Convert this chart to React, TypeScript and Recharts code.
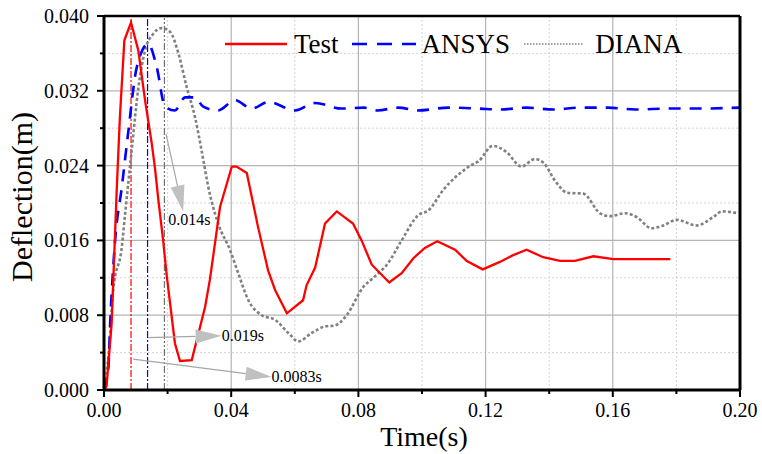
import React from "react"
import { LineChart, Line, XAxis, YAxis, ReferenceLine, Legend } from "recharts"

const FONT = '"Liberation Serif", "Times New Roman", serif'

// Test (measured)
const testTime = [
  0, 0.0008, 0.0024, 0.004, 0.005, 0.0064, 0.0085, 0.0108, 0.0129, 0.015, 0.016, 0.0171, 0.0186, 0.0197,
  0.0223, 0.0239, 0.0276, 0.0318, 0.0333, 0.0365, 0.0402, 0.0417, 0.0449, 0.0484, 0.0516, 0.0538, 0.0575,
  0.0626, 0.0637, 0.0664, 0.0695, 0.0732, 0.0783, 0.081, 0.0842, 0.0897, 0.0936, 0.0973, 0.1009, 0.1048,
  0.1104, 0.1141, 0.1191, 0.1245, 0.1285, 0.1329, 0.1381, 0.1434, 0.1481, 0.1539, 0.1602, 0.1781,
]
const testDefl = [
  0, 0.0004, 0.0071, 0.0214, 0.0292, 0.0374, 0.0393, 0.0363, 0.031, 0.0264, 0.0238, 0.0203, 0.016, 0.0123,
  0.005, 0.0031, 0.0032, 0.0089, 0.0118, 0.0196, 0.0239, 0.0239, 0.0232, 0.0175, 0.0128, 0.0107, 0.0082,
  0.0096, 0.0112, 0.0131, 0.0178, 0.0191, 0.0178, 0.016, 0.0134, 0.0115, 0.0125, 0.0141, 0.0152, 0.0159,
  0.015, 0.0138, 0.0129, 0.0137, 0.0144, 0.015, 0.0142, 0.0138, 0.0138, 0.0143, 0.014, 0.014,
]

// ANSYS
const ansysTime = [
  0, 0.0014, 0.0019, 0.0035, 0.0056, 0.0076, 0.0103, 0.0139, 0.0166, 0.0192, 0.0223, 0.0255, 0.0286,
  0.0312, 0.0359, 0.0412, 0.0464, 0.0517, 0.0601, 0.0664, 0.0747, 0.0818, 0.086, 0.0925, 0.0987, 0.1084,
  0.1179, 0.1244, 0.1329, 0.1414, 0.1499, 0.1585, 0.167, 0.1777, 0.1862, 0.2,
]
const ansysDefl = [
  0, 0.0025, 0.0068, 0.016, 0.0217, 0.0275, 0.0345, 0.037, 0.0345, 0.0303, 0.0299, 0.0313, 0.0313,
  0.0303, 0.0299, 0.031, 0.0301, 0.0308, 0.0299, 0.0307, 0.0301, 0.0302, 0.0299, 0.0302, 0.0299, 0.0302,
  0.0301, 0.03, 0.0302, 0.03, 0.0302, 0.0302, 0.03, 0.0301, 0.0301, 0.0302,
]

// DIANA
const dianaTime = [
  0, 0.0014, 0.0029, 0.0056, 0.0066, 0.0087, 0.0108, 0.0129, 0.0155, 0.0181, 0.0208, 0.0234, 0.026,
  0.0286, 0.0307, 0.0328, 0.0359, 0.0396, 0.0422, 0.0454, 0.0496, 0.0538, 0.058, 0.0611, 0.0653, 0.0695,
  0.0726, 0.0763, 0.0815, 0.0847, 0.0894, 0.0936, 0.0988, 0.102, 0.1067, 0.1148, 0.1179, 0.1222, 0.1264,
  0.1313, 0.1355, 0.1382, 0.142, 0.1457, 0.1507, 0.156, 0.1591, 0.1638, 0.1675, 0.1722, 0.1759, 0.1801,
  0.1864, 0.1916, 0.1943, 0.1995,
]
const dianaDefl = [
  0, 0.0036, 0.0107, 0.0153, 0.0187, 0.0256, 0.0323, 0.0363, 0.0381, 0.0387, 0.0383, 0.036, 0.0324,
  0.0292, 0.0256, 0.0217, 0.0178, 0.015, 0.0125, 0.0096, 0.008, 0.0075, 0.0061, 0.0052, 0.0061, 0.0068,
  0.0069, 0.008, 0.011, 0.012, 0.0136, 0.016, 0.0187, 0.0192, 0.0214, 0.0239, 0.0245, 0.0261, 0.0255,
  0.0239, 0.0247, 0.0243, 0.0223, 0.0211, 0.021, 0.0189, 0.0186, 0.0189, 0.0185, 0.0173, 0.0176, 0.0182,
  0.0176, 0.0185, 0.0191, 0.0189,
]

const xTicks = [0, 0.02, 0.04, 0.06, 0.08, 0.1, 0.12, 0.14, 0.16, 0.18, 0.2]
const yTicks = [0, 0.004, 0.008, 0.012, 0.016, 0.02, 0.024, 0.028, 0.032, 0.036, 0.04]
const xMajorGrid = [0.04, 0.08, 0.12, 0.16]
const xMinorGrid = [0.02, 0.06, 0.1, 0.14, 0.18]
const yMajorGrid = [0.008, 0.016, 0.024, 0.032]
const yMinorGrid = [0.004, 0.012, 0.02, 0.028, 0.036]

// peak time markers
const peakTest = 0.0085
const peakAnsys = 0.0137
const peakDiana = 0.019

const toPoints = (ts: number[], vs: number[]) => ts.map((t, i) => ({ t, v: vs[i] }))
const testData = toPoints(testTime, testDefl)
const ansysData = toPoints(ansysTime, ansysDefl)
const dianaData = toPoints(dianaTime, dianaDefl)

const XTick = ({ x, y, payload }: any) => {
  const major = Math.round(payload.value * 1000) % 40 === 0
  return (
    <g>
      <line x1={x} x2={x} y1={y} y2={y + (major ? 7 : 4)} stroke="#000" strokeWidth={2} />
      {major && (
        <text x={x} y={y + 27} textAnchor="middle" fontFamily={FONT} fontSize={20} fill="#000">
          {payload.value.toFixed(2)}
        </text>
      )}
    </g>
  )
}

const YTick = ({ x, y, payload }: any) => {
  const major = Math.round(payload.value * 1000) % 8 === 0
  return (
    <g>
      <line x1={x - (major ? 7 : 4)} x2={x} y1={y} y2={y} stroke="#000" strokeWidth={2} />
      {major && (
        <text x={x - 15} y={y + 7} textAnchor="end" fontFamily={FONT} fontSize={20} fill="#000">
          {payload.value.toFixed(3)}
        </text>
      )}
    </g>
  )
}

const arrow = (label: string, dx: number, dy: number) => (p: any) => {
  const { x1, y1, x2, y2 } = p
  const len = Math.hypot(x2 - x1, y2 - y1)
  const ux = (x2 - x1) / len
  const uy = (y2 - y1) / len
  const head = 26
  const half = 7
  const bx = x2 - ux * head
  const by = y2 - uy * head
  const pts = `${x2},${y2} ${bx - uy * half},${by + ux * half} ${bx + uy * half},${by - ux * half}`
  return (
    <g>
      <line x1={x1} y1={y1} x2={bx} y2={by} stroke="#a6a6a6" strokeWidth={1.2} />
      <polygon points={pts} fill="#c0c0c0" />
      <text x={x2 + dx} y={y2 + dy} fontFamily={FONT} fontSize={16} fill="#000">
        {label}
      </text>
    </g>
  )
}

const renderLegend = () => (
  <div
    style={{
      display: "flex",
      alignItems: "center",
      fontFamily: FONT,
      fontSize: 27,
      lineHeight: "30px",
      color: "#000",
      whiteSpace: "nowrap",
    }}
  >
    <svg width={62} height={6} style={{ marginRight: 7 }}>
      <line x1={0} x2={62} y1={3} y2={3} stroke="#ff0000" strokeWidth={2.5} />
    </svg>
    <span style={{ marginRight: 13 }}>Test</span>
    <svg width={64} height={6} style={{ marginRight: 6 }}>
      <line x1={0} x2={64} y1={3} y2={3} stroke="#0000ff" strokeWidth={2.5} strokeDasharray="15 10" />
    </svg>
    <span style={{ marginRight: 14 }}>ANSYS</span>
    <svg width={60} height={6} style={{ marginRight: 11 }}>
      <line x1={0} x2={60} y1={3} y2={3} stroke="#808080" strokeWidth={1.3} strokeDasharray="1.5 1.5" />
    </svg>
    <span>DIANA</span>
  </div>
)

const YTitle = ({ viewBox }: any) => {
  const cx = viewBox.x + 21
  const cy = viewBox.y + viewBox.height / 2 - 6
  return (
    <text
      x={cx}
      y={cy}
      transform={`rotate(-90 ${cx} ${cy})`}
      textAnchor="middle"
      dy="0.35em"
      fontFamily={FONT}
      fontSize={30}
      fill="#000"
    >
      Deflection(m)
    </text>
  )
}

const XTitle = ({ viewBox }: any) => (
  <text
    x={viewBox.x + viewBox.width / 2 + 2}
    y={viewBox.y + 56}
    textAnchor="middle"
    fontFamily={FONT}
    fontSize={28}
    fill="#000"
  >
    Time(s)
  </text>
)

export default function App() {
  return (
    <div style={{ width: 762, height: 454, background: "#fff" }}>
      <style>{"body{margin:0}"}</style>
      <LineChart width={762} height={454} margin={{ top: 16, right: 22, left: 0, bottom: 0 }}>
        <XAxis
          dataKey="t"
          type="number"
          domain={[0, 0.2]}
          ticks={xTicks}
          interval={0}
          tickSize={0}
          tickMargin={0}
          tickLine={false}
          axisLine={{ stroke: "#000", strokeWidth: 3 }}
          tick={(p: any) => <XTick {...p} />}
          height={64}
          label={(p: any) => <XTitle {...p} />}
        />
        <YAxis
          type="number"
          domain={[0, 0.04]}
          ticks={yTicks}
          interval={0}
          tickSize={0}
          tickMargin={0}
          tickLine={false}
          axisLine={{ stroke: "#000", strokeWidth: 3 }}
          tick={(p: any) => <YTick {...p} />}
          width={104}
          label={(p: any) => <YTitle {...p} />}
        />

        {xMinorGrid.map((v) => (
          <ReferenceLine key={`xm${v}`} x={v} stroke="#d4d4d4" strokeWidth={1} strokeDasharray="2 2" />
        ))}
        {yMinorGrid.map((v) => (
          <ReferenceLine key={`ym${v}`} y={v} stroke="#d4d4d4" strokeWidth={1} strokeDasharray="2 2" />
        ))}
        {xMajorGrid.map((v) => (
          <ReferenceLine key={`xM${v}`} x={v} stroke="#b4b4b4" strokeWidth={1.2} />
        ))}
        {yMajorGrid.map((v) => (
          <ReferenceLine key={`yM${v}`} y={v} stroke="#b4b4b4" strokeWidth={1.2} />
        ))}

        <ReferenceLine x={peakTest} stroke="#ff0000" strokeWidth={1.2} strokeDasharray="7 2 2 2" />
        <ReferenceLine x={peakAnsys} stroke="#0000ff" strokeWidth={1.2} strokeDasharray="7 2 2 2" />
        <ReferenceLine x={peakDiana} stroke="#707070" strokeWidth={1.2} strokeDasharray="7 2 2 2 2 2" />

        <Line
          data={dianaData}
          dataKey="v"
          type="monotone"
          stroke="#808080"
          strokeWidth={2.6}
          strokeDasharray="3 2.2"
          dot={false}
          isAnimationActive={false}
        />
        <Line
          data={ansysData}
          dataKey="v"
          type="monotone"
          stroke="#0000ff"
          strokeWidth={2.6}
          strokeDasharray="12 9"
          dot={false}
          isAnimationActive={false}
        />
        <Line
          data={testData}
          dataKey="v"
          type="linear"
          stroke="#ff0000"
          strokeWidth={2.3}
          dot={false}
          isAnimationActive={false}
        />

        <ReferenceLine
          segment={[{ x: 0.0195, y: 0.0274 }, { x: 0.0249, y: 0.0191 }]}
          shape={arrow("0.014s", -15, 14)}
        />
        <ReferenceLine
          segment={[{ x: 0.0139, y: 0.0056 }, { x: 0.037, y: 0.0058 }]}
          shape={arrow("0.019s", 0, 5)}
        />
        <ReferenceLine
          segment={[{ x: 0.0092, y: 0.0033 }, { x: 0.0527, y: 0.0014 }]}
          shape={arrow("0.0083s", 0, 5)}
        />

        <ReferenceLine x={0.2} stroke="#000" strokeWidth={3} />
        <ReferenceLine y={0.04} stroke="#000" strokeWidth={2.5} />

        <Legend
          layout="horizontal"
          verticalAlign="middle"
          align="center"
          content={renderLegend}
          wrapperStyle={{ top: 29, left: 225, width: 480, height: 30 }}
        />
      </LineChart>
    </div>
  )
}
